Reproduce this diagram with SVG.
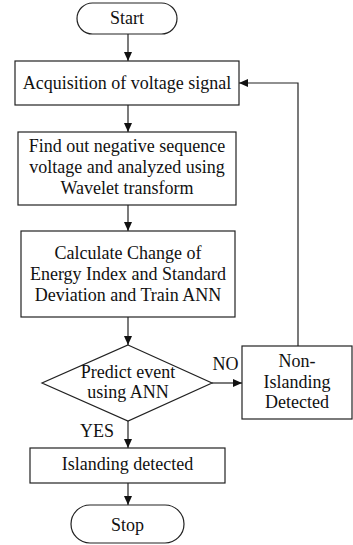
<svg xmlns="http://www.w3.org/2000/svg" width="353" height="545" viewBox="0 0 353 545" font-family="'Liberation Serif', Tinos, 'Times New Roman', 'DejaVu Serif', serif">
  <style>
    .shape { fill: #ffffff; stroke: #222222; stroke-width: 1.2; }
    .line { fill: none; stroke: #222222; stroke-width: 1.2; }
    text { font-family: 'Liberation Serif', Tinos, 'Times New Roman', 'DejaVu Serif', serif; font-size: 18px; fill: #111111; text-anchor: middle; }
  </style>
  <defs>
    <marker id="arrow" markerUnits="userSpaceOnUse" markerWidth="9" markerHeight="8" refX="9" refY="4" orient="auto">
      <path d="M0,0 L9,4 L0,8 z" fill="#111111"/>
    </marker>
  </defs>
  <rect width="353" height="545" fill="#ffffff"/>

  <!-- connectors -->
  <g id="connectors">
    <line class="line" x1="128" y1="34" x2="128" y2="61" marker-end="url(#arrow)"/>
    <line class="line" x1="128" y1="105" x2="128" y2="132" marker-end="url(#arrow)"/>
    <line class="line" x1="128" y1="205" x2="128" y2="231" marker-end="url(#arrow)"/>
    <line class="line" x1="128" y1="317" x2="128" y2="345" marker-end="url(#arrow)"/>
    <line class="line" x1="128" y1="421" x2="128" y2="448" marker-end="url(#arrow)"/>
    <line class="line" x1="128" y1="483" x2="128" y2="505" marker-end="url(#arrow)"/>
    <line class="line" x1="212" y1="383" x2="242" y2="383" marker-end="url(#arrow)"/>
    <polyline class="line" points="298,346 298,83 239,83" marker-end="url(#arrow)"/>
    <text x="225.5" y="370">NO</text>
    <text x="97" y="437">YES</text>
  </g>

  <!-- nodes -->
  <g id="start">
    <rect class="shape" x="77" y="3" width="100" height="31" rx="15.5"/>
    <text x="127" y="24">Start</text>
  </g>
  <g id="acquisition">
    <rect class="shape" x="15" y="61" width="224" height="44"/>
    <text x="127" y="89">Acquisition of voltage signal</text>
  </g>
  <g id="negative-sequence">
    <rect class="shape" x="18" y="132" width="218" height="73"/>
    <text x="127" y="152">Find out negative sequence</text>
    <text x="127" y="173">voltage and analyzed using</text>
    <text x="127" y="194">Wavelet transform</text>
  </g>
  <g id="energy-index">
    <rect class="shape" x="21" y="231" width="214" height="86"/>
    <text x="128" y="259">Calculate Change of</text>
    <text x="128" y="280">Energy Index and Standard</text>
    <text x="128" y="301">Deviation and Train ANN</text>
  </g>
  <g id="predict">
    <polygon class="shape" points="128,345 212,383 128,421 42,383"/>
    <text x="128" y="378">Predict event</text>
    <text x="128" y="398">using ANN</text>
  </g>
  <g id="non-islanding">
    <rect class="shape" x="242" y="346" width="110" height="73"/>
    <text x="297" y="367">Non-</text>
    <text x="297" y="388">Islanding</text>
    <text x="297" y="408">Detected</text>
  </g>
  <g id="islanding">
    <rect class="shape" x="30" y="448" width="195" height="35"/>
    <text x="127.5" y="470">Islanding detected</text>
  </g>
  <g id="stop">
    <rect class="shape" x="71" y="505" width="113" height="38" rx="19"/>
    <text x="127.5" y="531">Stop</text>
  </g>
</svg>
